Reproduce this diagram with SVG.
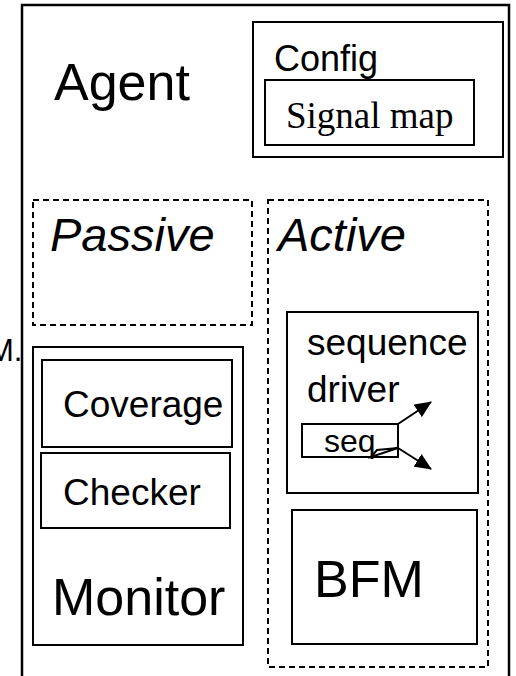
<svg xmlns="http://www.w3.org/2000/svg" width="516" height="676" viewBox="0 0 516 676">
<defs>
<style>
.box{fill:none;stroke:#000;stroke-width:2}
.dash{fill:none;stroke:#000;stroke-width:2;stroke-dasharray:6 4}
.t{font-family:"Liberation Sans",Arial,sans-serif;fill:#000}
.s{font-family:"Liberation Serif","Times New Roman",serif;fill:#000}
.i{font-style:italic}
.ln{fill:none;stroke:#000;stroke-width:2}
</style>
<marker id="ah" markerUnits="userSpaceOnUse" markerWidth="17" markerHeight="15" refX="16" refY="7.5" orient="auto">
<path d="M0,0 L17,7.5 L0,15 z" fill="#000"/>
</marker>
</defs>
<rect width="516" height="676" fill="#fff"/>
<text class="t" x="-12" y="361" font-size="31">M.</text>
<g id="agent">
<path d="M22,680 V5 H509 V680" fill="none" stroke="#000" stroke-width="2.5"/>
<text class="t" x="54" y="100" font-size="52">Agent</text>
</g>
<g id="config">
<rect class="box" x="253" y="22" width="250" height="135"/>
<text class="t" x="274" y="71" font-size="36">Config</text>
</g>
<g id="signal-map">
<rect class="box" x="265" y="80" width="209" height="65"/>
<text class="s" x="286" y="128" font-size="37">Signal map</text>
</g>
<g id="passive">
<rect class="dash" x="33" y="200" width="219" height="125"/>
<text class="t i" x="50" y="251" font-size="47">Passive</text>
</g>
<g id="active">
<rect class="dash" x="268" y="200" width="220" height="467"/>
<text class="t i" x="278" y="251" font-size="47">Active</text>
</g>
<g id="monitor">
<rect class="box" x="33" y="347" width="210" height="298"/>
<text class="t" x="52" y="615" font-size="52">Monitor</text>
</g>
<g id="coverage">
<rect class="box" x="42" y="360" width="190" height="87"/>
<text class="t" x="63" y="417" font-size="37">Coverage</text>
</g>
<g id="checker">
<rect class="box" x="41" y="453" width="189" height="75"/>
<text class="t" x="63" y="505" font-size="37">Checker</text>
</g>
<g id="sequence-driver">
<rect class="box" x="287" y="312" width="191" height="181"/>
<text class="t" x="307" y="355" font-size="37">sequence</text>
<text class="t" x="307" y="402" font-size="37">driver</text>
</g>
<g id="seq">
<rect class="box" x="302" y="424" width="96" height="33"/>
<text class="t" x="324" y="452" font-size="32">seq</text>
</g>
<g id="bfm">
<rect class="box" x="292" y="510" width="185" height="134"/>
<text class="t" x="314" y="597" font-size="52">BFM</text>
</g>
<g id="connectors">
<line class="ln" x1="398" y1="424" x2="431" y2="402" marker-end="url(#ah)"/>
<line class="ln" x1="398" y1="448" x2="431" y2="469" marker-end="url(#ah)"/>
<path class="ln" d="M398,448 L377,450 L371,457 Z" stroke-width="1.5"/>
</g>
</svg>
